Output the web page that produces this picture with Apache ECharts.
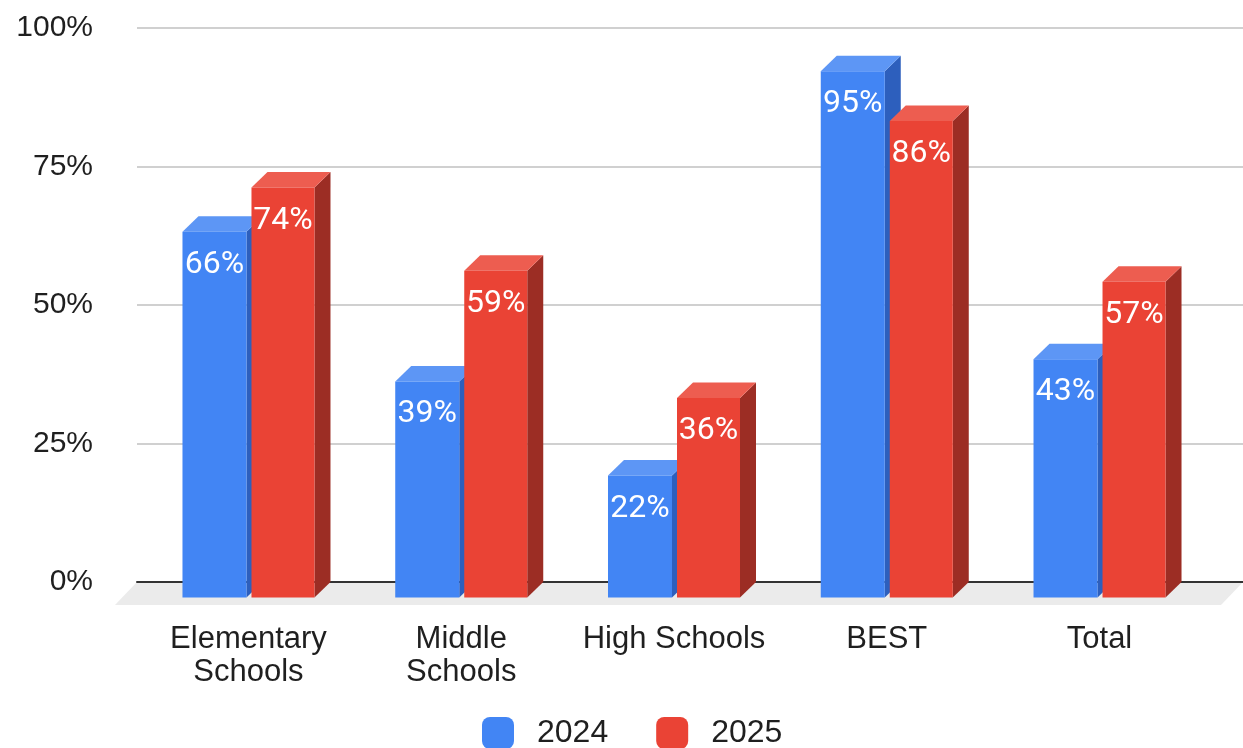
<!DOCTYPE html>
<html>
<head>
<meta charset="utf-8">
<script src="https://cdn.jsdelivr.net/npm/echarts@6/dist/echarts.min.js"></script>
<style>
html,body{margin:0;padding:0;background:#fff;}
#chart{width:1243px;height:748px;}
</style>
</head>
<body>
<div id="chart"></div>
<script>
const categories = ['Elementary\nSchools', 'Middle\nSchools', 'High Schools', 'BEST', 'Total'];
const seriesNames = ['2024', '2025'];
const values2024 = [66, 39, 22, 95, 43];
const values2025 = [74, 59, 36, 86, 57];
const yTicks = [0, 25, 50, 75, 100];

const palette = [
  { front: '#4285f4', top: '#5d96f5', side: '#2d5fbd' },
  { front: '#ea4335', top: '#ed5d50', side: '#9c2d24' }
];
const DX = 16, DY = 15.5;
const BAND = 212.75;
const barGeom = [
  { off: -66 / BAND, w: 64 / BAND },
  { off: 3 / BAND, w: 63 / BAND }
];

function makeRender(s) {
  return function (params, api) {
    const cat = api.value(0), val = api.value(1);
    const p = api.coord([cat, val]);
    const b = api.coord([cat, 0]);
    const band = api.size([1, 0])[0];
    const x0 = p[0] + barGeom[s].off * band;
    const w = barGeom[s].w * band;
    const yT = p[1], yB = b[1];
    const col = palette[s];
    return {
      type: 'group',
      children: [
        { type: 'polygon', shape: { points: [[x0 + w, yT], [x0 + w + DX, yT - DY], [x0 + w + DX, yB - DY], [x0 + w, yB]] }, style: { fill: col.side } },
        { type: 'polygon', shape: { points: [[x0, yT], [x0 + DX, yT - DY], [x0 + w + DX, yT - DY], [x0 + w, yT]] }, style: { fill: col.top } },
        { type: 'rect', shape: { x: x0, y: yT, width: w, height: yB - yT }, style: { fill: col.front } },
        { type: 'text', x: x0 + w / 2, y: yT + 33, style: { text: val + '%', fill: '#ffffff', font: '32px Roboto', align: 'center', verticalAlign: 'middle' } }
      ]
    };
  };
}

const chart = echarts.init(document.getElementById('chart'), null, { renderer: 'canvas' });
chart.setOption({
  animation: false,
  backgroundColor: '#ffffff',
  graphic: [
    { type: 'polygon', z: -1, shape: { points: [[137, 582], [1243, 582], [1221, 605], [115, 605]] }, style: { fill: '#ebebeb' } }
  ],
  grid: [
    { left: 137, right: 0, top: 28, bottom: 166 },
    { left: 142.1, right: 37.1, top: 43.5, bottom: 150.5 }
  ],
  xAxis: [
    { type: 'category', gridIndex: 0, data: categories, axisLabel: { show: false }, axisTick: { show: false }, axisLine: { show: true, lineStyle: { color: '#333333', width: 2 } } },
    { type: 'category', gridIndex: 1, data: categories, axisLine: { show: false }, axisTick: { show: false },
      axisLabel: { margin: 25, fontSize: 31, lineHeight: 33, color: '#1f1f1f', fontFamily: 'Liberation Sans, Arial, sans-serif', interval: 0 } }
  ],
  yAxis: [
    { type: 'value', gridIndex: 0, min: 0, max: 100, interval: 25,
      axisLabel: { formatter: '{value}%', fontSize: 30, color: '#1f1f1f', margin: 44, fontFamily: 'Liberation Sans, Arial, sans-serif' },
      axisLine: { show: false }, axisTick: { show: false },
      splitLine: { lineStyle: { color: '#d0d0d0', width: 2 } } },
    { type: 'value', gridIndex: 1, min: 0, max: 100, show: false, splitLine: { show: false } }
  ],
  legend: {
    data: seriesNames,
    left: 482,
    top: 717,
    padding: 0,
    itemWidth: 32,
    itemHeight: 32,
    itemGap: 48,
    icon: 'roundRect',
    textStyle: { fontSize: 32, color: '#1f1f1f', fontFamily: 'Liberation Sans, Arial, sans-serif', padding: [0, 0, 0, 18] }
  },
  series: [
    { type: 'custom', name: seriesNames[0], xAxisIndex: 1, yAxisIndex: 1, renderItem: makeRender(0),
      itemStyle: { color: palette[0].front }, encode: { x: 0, y: 1 },
      data: values2024.map((v, i) => [i, v]) },
    { type: 'custom', name: seriesNames[1], xAxisIndex: 1, yAxisIndex: 1, renderItem: makeRender(1),
      itemStyle: { color: palette[1].front }, encode: { x: 0, y: 1 },
      data: values2025.map((v, i) => [i, v]) }
  ]
});
</script>
</body>
</html>
